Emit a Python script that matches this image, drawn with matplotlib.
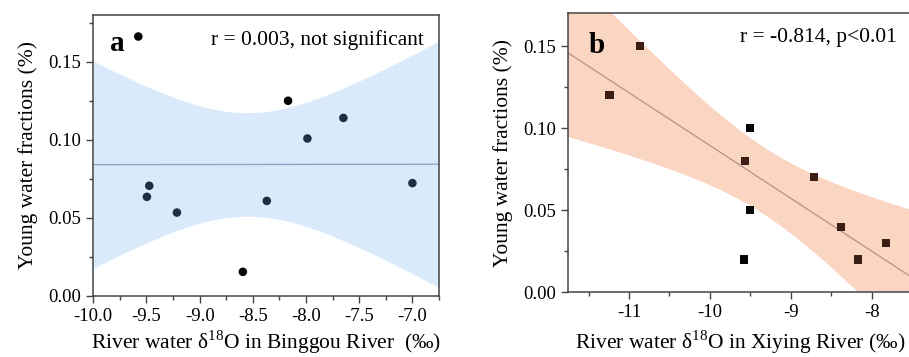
import numpy as np
import matplotlib
matplotlib.use("Agg")
import matplotlib.pyplot as plt
from matplotlib.ticker import MultipleLocator

plt.rcParams["font.family"] = ["Liberation Serif", "DejaVu Serif"]
plt.rcParams["mathtext.fontset"] = "custom"
plt.rcParams["mathtext.rm"] = "Liberation Serif"
plt.rcParams["axes.unicode_minus"] = False

# panel a - Binggou River
x_a = [-9.577, -8.169, -7.987, -7.649, -7.0, -9.474, -9.496, -9.214, -8.369, -8.594]
y_a = [0.1662, 0.125, 0.1008, 0.114, 0.0722, 0.0705, 0.0634, 0.0533, 0.0608, 0.0153]
black_a = [True, True, False, False, False, False, False, False, False, True]

# panel b - Xiying River
x_b = [-10.868, -11.24, -9.50, -9.56, -9.50, -9.58, -8.71, -8.38, -8.17, -7.82]
y_b = [0.15, 0.12, 0.10, 0.08, 0.05, 0.02, 0.07, 0.04, 0.02, 0.03]
black_b = [False, False, True, False, True, True, False, False, False, False]


def fit_band(x, y, xs):
    x = np.asarray(x)
    y = np.asarray(y)
    n = len(x)
    b, a = np.polyfit(x, y, 1)
    res = y - (a + b * x)
    s = np.sqrt(np.sum(res ** 2) / (n - 2))
    sxx = np.sum((x - x.mean()) ** 2)
    t = 2.306  # t(0.975, 8)
    fit = a + b * xs
    half = t * s * np.sqrt(1 / n + (xs - x.mean()) ** 2 / sxx)
    return fit, fit - half, fit + half


fig = plt.figure(figsize=(9.09, 3.57), dpi=100)
W, H = 909, 357
ax1 = fig.add_axes([93.3 / W, 1 - 295.7 / H, (439 - 93.3) / W, (295.7 - 15) / H])
ax2 = fig.add_axes([568.3 / W, 1 - 292.3 / H, (912 - 568.3) / W, (292.3 - 13.3) / H])

spine_col = "#444444"
tick_fs = 13.5
lab_fs = 15.5

# ---- a
xs = np.linspace(-10.0, -6.75, 200)
fit, lo, hi = fit_band(x_a, y_a, xs)
ax1.fill_between(xs, lo, hi, color="#d9eafb", lw=0)
ax1.plot(xs, fit, color="#8fa6c4", lw=1)
cols = ["#050505" if k else "#1e2f44" for k in black_a]
ax1.scatter(x_a, y_a, c=cols, s=38, zorder=3, edgecolors="none")
ax1.set_xlim(-10.0, -6.75)
ax1.set_ylim(0, 0.18)
ax1.xaxis.set_minor_locator(MultipleLocator(0.25))
ax1.yaxis.set_minor_locator(MultipleLocator(0.025))
ax1.set_xticks(np.arange(-10.0, -6.9, 0.5))
ax1.set_xticklabels(["%.1f" % v for v in np.arange(-10.0, -6.9, 0.5)])
ax1.set_yticks([0, 0.05, 0.10, 0.15])
ax1.set_yticklabels(["0.00", "0.05", "0.10", "0.15"])
ax1.text(0.048, 0.90, "a", transform=ax1.transAxes, fontsize=21, fontweight="bold",
         va="center")
ax1.text(0.957, 0.911, "r = 0.003, not significant", transform=ax1.transAxes,
         fontsize=15.5, ha="right", va="center")
ax1.set_xlabel("River water δ$^{18}$O in Binggou River  (‰)", fontsize=lab_fs, labelpad=3)
ax1.set_ylabel("Young water fractions (%)", fontsize=lab_fs, labelpad=8)

# ---- b
xs = np.linspace(-11.75, -7.5, 200)
fit, lo, hi = fit_band(x_b, y_b, xs)
ax2.fill_between(xs, lo, hi, color="#fad5c1", lw=0)
ax2.plot(xs, fit, color="#b59282", lw=0.9)
cols = ["#050505" if k else "#3b1f14" for k in black_b]
ax2.scatter(x_b, y_b, c=cols, s=34, marker="s", zorder=3, edgecolors="none")
ax2.set_xlim(-11.75, -7.5)
ax2.set_ylim(0, 0.17)
ax2.xaxis.set_major_locator(MultipleLocator(1))
ax2.xaxis.set_minor_locator(MultipleLocator(0.5))
ax2.set_yticks([0, 0.05, 0.10, 0.15])
ax2.set_yticklabels(["0.00", "0.05", "0.10", "0.15"])
ax2.yaxis.set_minor_locator(MultipleLocator(0.025))
ax2.text(0.06, 0.885, "b", transform=ax2.transAxes, fontsize=21, fontweight="bold",
         va="center")
ax2.text(0.956, 0.915, "r = -0.814, p<0.01", transform=ax2.transAxes,
         fontsize=15.5, ha="right", va="center")
ax2.set_xlabel("River water δ$^{18}$O in Xiying River (‰)", fontsize=lab_fs, labelpad=5)
ax2.set_ylabel("Young water fractions (%)", fontsize=lab_fs, labelpad=8)

for ax in (ax1, ax2):
    for sp in ax.spines.values():
        sp.set_color(spine_col)
        sp.set_linewidth(1.1)
    ax.tick_params(which="both", direction="out", colors=spine_col, labelcolor="black",
                   top=False, right=False)
    ax.tick_params(which="major", length=5, width=1, labelsize=tick_fs)
    ax.tick_params(which="minor", length=3, width=1)

fig.savefig("out.png", dpi=100)
